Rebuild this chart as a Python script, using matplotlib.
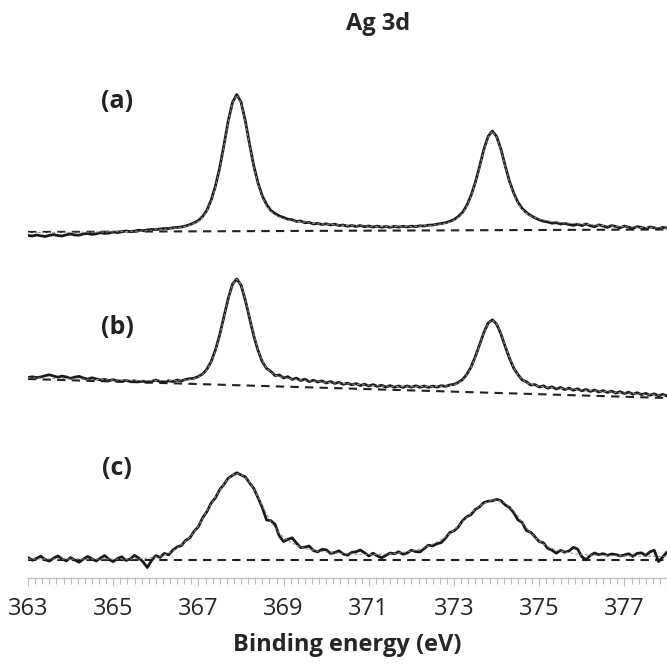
import numpy as np
import matplotlib.pyplot as plt
from matplotlib.ticker import MultipleLocator

plt.rcParams['font.family'] = ['Open Sans', 'DejaVu Sans']

# ---------------------------------------------------------------
# Datos (intensidad apilada, unidades arbitrarias)
# ---------------------------------------------------------------
energy = np.round(np.linspace(363.0, 378.0, 151), 1)   # eV, paso 0.1

data_a = [
    342.5, 342.0, 343.0, 342.2, 341.5, 342.6, 343.4, 342.5, 342.0, 343.2,
    344.0, 343.0, 342.8, 344.1, 344.5, 343.6, 344.2, 345.3, 344.6, 344.9,
    346.0, 345.4, 346.2, 347.0, 346.3, 346.9, 347.8, 347.3, 348.0, 348.6,
    348.3, 349.0, 349.5, 349.4, 350.2, 350.6, 351.0, 352.0, 353.4, 355.2,
    357.5, 361.5, 367.8, 378.0, 392.0, 410.2, 433.0, 457.0, 475.5, 483.5,
    476.0, 457.5, 434.0, 412.0, 395.0, 382.0, 373.5, 367.5, 364.5, 362.0,
    360.5, 358.8, 358.2, 356.6, 357.0, 355.2, 355.6, 354.0, 354.6, 353.5,
    354.2, 353.0, 353.8, 352.5, 353.0, 351.8, 352.5, 351.6, 352.4, 351.3,
    352.0, 351.0, 351.9, 350.8, 351.5, 350.7, 351.6, 350.9, 351.7, 351.0,
    351.8, 351.4, 352.2, 352.0, 352.8, 353.0, 353.8, 354.5, 355.3, 356.6,
    358.4, 361.5, 365.6, 372.5, 382.5, 395.5, 411.5, 428.5, 441.5, 447.0,
    441.5, 429.0, 412.5, 397.0, 385.0, 375.8, 369.5, 365.5, 362.5, 360.2,
    358.2, 356.8, 356.0, 354.8, 355.3, 354.0, 354.6, 353.5, 352.6, 353.8,
    352.4, 354.0, 352.3, 351.2, 353.2, 352.0, 350.6, 352.4, 351.5, 350.2,
    352.0, 350.8, 349.6, 351.4, 350.6, 349.4, 351.0, 350.2, 349.2, 350.6,
    350.0]

fit_a = [
    345.4, 345.4, 345.5, 345.5, 345.5, 345.6, 345.6, 345.6, 345.7, 345.7,
    345.7, 345.8, 345.8, 345.8, 345.9, 345.9, 346.0, 346.0, 346.1, 346.1,
    346.2, 346.3, 346.3, 346.4, 346.5, 346.6, 346.8, 347.1, 347.5, 347.9,
    348.2, 348.5, 348.8, 349.3, 349.7, 350.2, 350.7, 351.7, 352.8, 354.8,
    356.8, 360.8, 366.8, 376.9, 390.9, 408.9, 431.9, 455.9, 474.9, 483.0,
    475.3, 456.6, 433.0, 411.0, 394.0, 381.0, 372.1, 366.6, 363.1, 361.1,
    359.2, 358.2, 357.2, 356.8, 356.3, 355.7, 355.1, 354.6, 354.2, 354.1,
    353.9, 353.6, 353.4, 353.0, 352.6, 352.4, 352.3, 352.2, 352.2, 352.0,
    351.8, 351.7, 351.6, 351.4, 351.3, 351.3, 351.3, 351.3, 351.4, 351.4,
    351.5, 351.7, 351.9, 352.2, 352.5, 352.9, 353.4, 354.1, 354.9, 356.0,
    357.7, 360.7, 364.7, 371.7, 381.7, 394.7, 410.7, 427.7, 440.7, 446.7,
    441.1, 428.4, 411.8, 396.3, 384.0, 374.8, 368.3, 364.8, 362.0, 360.4,
    359.0, 358.0, 357.2, 356.5, 356.0, 355.5, 355.1, 354.8, 354.5, 354.2,
    354.0, 353.6, 353.3, 353.0, 352.7, 352.4, 352.1, 351.9, 351.7, 351.5,
    351.3, 351.1, 350.9, 350.8, 350.6, 350.5, 350.3, 350.2, 350.1, 350.0,
    349.9]

data_b = [
    200.5, 201.2, 200.4, 201.0, 202.3, 203.2, 202.0, 200.8, 201.9, 201.0,
    199.6, 200.9, 201.6, 200.0, 198.9, 200.2, 199.1, 198.0, 198.6, 197.5,
    198.3, 197.2, 196.8, 197.6, 196.5, 197.2, 196.2, 196.9, 195.9, 196.7,
    197.8, 196.6, 196.0, 197.2, 196.5, 198.0, 197.0, 198.6, 199.3, 199.8,
    201.5, 204.0, 208.8, 216.5, 228.0, 243.2, 261.4, 279.5, 293.8, 299.0,
    293.0, 278.0, 260.0, 242.0, 227.5, 216.2, 209.6, 206.5, 202.4, 203.0,
    200.0, 201.3, 198.6, 199.9, 197.5, 198.8, 196.4, 197.8, 196.0, 197.1,
    195.0, 196.4, 194.6, 195.6, 193.7, 194.9, 193.2, 194.4, 192.5, 193.8,
    192.0, 193.4, 191.6, 192.8, 191.0, 192.4, 190.8, 192.0, 190.6, 192.0,
    190.8, 192.2, 190.7, 192.0, 190.6, 191.9, 190.9, 192.3, 191.6, 193.0,
    193.6, 195.6, 198.4, 203.6, 211.0, 221.4, 233.2, 245.4, 254.8, 258.2,
    254.0, 244.2, 231.8, 220.0, 210.0, 203.6, 198.0, 196.2, 193.0, 193.4,
    191.0, 192.2, 189.8, 191.2, 189.0, 190.6, 188.4, 189.9, 187.8, 189.2,
    187.2, 188.5, 186.6, 188.0, 186.0, 187.4, 185.5, 186.9, 184.9, 186.3,
    184.4, 185.8, 183.8, 185.3, 183.4, 184.6, 182.8, 184.2, 182.2, 183.6,
    182.0]

fit_b = [
    200.2, 200.1, 200.0, 199.8, 199.7, 199.6, 199.5, 199.4, 199.3, 199.2,
    199.1, 199.0, 198.9, 198.8, 198.7, 198.6, 198.5, 198.4, 198.3, 198.1,
    198.0, 197.9, 197.8, 197.8, 197.7, 197.6, 197.5, 197.5, 197.4, 197.4,
    197.4, 197.5, 197.6, 197.5, 197.5, 197.7, 197.9, 198.1, 198.7, 199.5,
    200.9, 203.6, 208.2, 215.9, 227.2, 242.4, 260.6, 278.9, 293.3, 298.8,
    293.3, 278.8, 260.7, 242.8, 228.0, 217.1, 209.9, 205.5, 202.8, 201.4,
    200.4, 199.6, 199.0, 198.6, 198.2, 197.9, 197.5, 197.0, 196.5, 196.0,
    195.7, 195.4, 195.1, 194.8, 194.4, 194.1, 193.8, 193.5, 193.2, 192.9,
    192.7, 192.5, 192.3, 192.1, 191.9, 191.7, 191.5, 191.4, 191.3, 191.3,
    191.5, 191.5, 191.5, 191.4, 191.3, 191.4, 191.5, 191.7, 192.0, 192.5,
    193.3, 195.0, 197.9, 203.0, 210.5, 220.7, 232.6, 244.9, 254.5, 258.0,
    254.3, 244.7, 232.4, 220.4, 210.5, 203.2, 198.4, 195.5, 193.7, 192.5,
    191.8, 191.2, 190.7, 190.4, 190.0, 189.8, 189.3, 189.1, 188.8, 188.4,
    188.0, 187.7, 187.4, 187.1, 186.8, 186.5, 186.2, 185.9, 185.6, 185.3,
    185.0, 184.7, 184.4, 184.1, 183.9, 183.6, 183.4, 183.1, 182.9, 182.6,
    182.4]

data_c = [
    20.5, 17.8, 19.6, 21.8, 18.4, 16.9, 19.8, 22.0, 19.0, 17.2,
    20.4, 18.0, 15.8, 18.9, 21.5, 19.2, 17.0, 19.9, 22.4, 18.6,
    16.4, 19.5, 21.2, 17.6, 19.0, 22.6, 20.0, 16.2, 10.5, 17.5,
    22.4, 20.6, 24.6, 23.2, 27.8, 31.0, 32.4, 37.6, 40.2, 46.8,
    51.4, 60.2, 66.4, 75.0, 80.2, 88.4, 93.6, 99.8, 102.6, 105.2,
    103.0, 101.2, 95.2, 89.6, 80.2, 70.4, 58.0, 57.4, 53.6, 42.0,
    36.4, 38.6, 40.2, 35.0, 30.4, 30.8, 32.0, 27.4, 26.2, 28.6,
    28.2, 24.6, 25.4, 27.2, 24.0, 22.8, 25.6, 26.2, 28.0, 25.2,
    22.0, 24.8, 22.2, 20.2, 22.6, 25.0, 24.2, 26.2, 23.8, 25.0,
    27.8, 26.4, 26.0, 29.4, 32.8, 32.2, 34.2, 35.4, 39.8, 45.4,
    47.2, 51.0, 57.4, 61.2, 63.4, 68.6, 71.2, 75.4, 76.8, 77.2,
    78.6, 77.4, 73.2, 70.6, 65.4, 58.2, 55.6, 47.4, 45.8, 41.2,
    36.4, 35.2, 29.6, 27.8, 24.8, 27.6, 25.8, 27.0, 30.6, 29.0,
    21.4, 18.2, 22.6, 25.0, 23.2, 24.4, 22.6, 24.0, 23.4, 22.0,
    23.0, 24.2, 21.6, 24.6, 25.2, 22.4, 26.2, 27.8, 16.4, 21.0,
    26.0]

fit_c = [
    19.0, 19.0, 19.0, 19.0, 19.0, 19.0, 19.0, 19.0, 19.0, 19.0,
    19.0, 19.0, 19.0, 19.0, 19.0, 19.0, 19.0, 19.0, 19.0, 19.0,
    19.0, 19.0, 19.0, 19.0, 19.0, 19.2, 19.4, 19.7, 20.0, 20.4,
    21.0, 21.9, 23.0, 24.8, 27.0, 29.8, 33.0, 36.8, 41.0, 46.2,
    52.0, 59.5, 67.0, 74.0, 81.0, 87.7, 94.0, 99.0, 103.0, 104.5,
    103.5, 100.5, 96.0, 89.0, 81.0, 72.5, 64.0, 56.5, 50.0, 45.0,
    41.0, 37.8, 35.0, 32.8, 31.0, 29.6, 28.5, 27.7, 27.0, 26.5,
    26.0, 25.5, 25.0, 24.8, 24.5, 24.2, 24.0, 23.8, 23.5, 23.5,
    23.5, 23.5, 23.5, 23.7, 24.0, 24.2, 24.5, 25.0, 25.5, 26.2,
    27.0, 28.0, 29.0, 30.4, 32.0, 34.0, 36.0, 38.4, 41.0, 44.4,
    48.0, 52.0, 56.0, 60.5, 65.0, 68.8, 72.0, 74.5, 76.5, 77.6,
    78.0, 77.0, 75.0, 71.5, 67.0, 61.8, 56.0, 50.4, 45.0, 40.8,
    37.0, 34.0, 31.5, 29.6, 28.0, 27.0, 26.0, 25.2, 24.5, 24.0,
    23.5, 23.2, 23.0, 22.8, 22.7, 22.5, 22.4, 22.3, 22.2, 22.1,
    22.0, 22.0, 21.9, 21.9, 21.8, 21.8, 21.7, 21.7, 21.6, 21.6,
    21.5]

# Fondos lineales (extremos 363 y 378 eV)
bg_energy = [363.0, 378.0]
bg_a = [346.0, 348.5]
bg_b = [199.0, 180.0]
bg_c = [18.0, 18.0]

panel_labels = ["(a)", "(b)", "(c)"]
label_y = [477, 251, 110]
tick_values = [363, 365, 367, 369, 371, 373, 375, 377]

# ---------------------------------------------------------------
# Figura
# ---------------------------------------------------------------
fig = plt.figure(figsize=(6.67, 6.64), dpi=100)
ax = fig.add_axes([28 / 667, 1 - 578 / 664, 639 / 667, 518 / 664])

for dat, fit, bg in [(data_a, fit_a, bg_a), (data_b, fit_b, bg_b), (data_c, fit_c, bg_c)]:
    ax.plot(bg_energy, bg, color="#222222", lw=1.5, ls=(0, (4, 3)), zorder=2)
    ax.plot(energy, dat, color="#1a1a1a", lw=2.0, solid_joinstyle="round",
            solid_capstyle="round", zorder=3)
    ax.plot(energy, fit, color="#8c8c8c", lw=0.7, ls=(0, (3, 2)), zorder=4)

for lab, y in zip(panel_labels, label_y):
    ax.text(365.09, y, lab, fontsize=18, fontweight="bold", color="#222222",
            ha="center", va="center")

ax.set_xlim(363, 378)
ax.set_ylim(0, 518)

for s in ["top", "right", "left"]:
    ax.spines[s].set_visible(False)
ax.spines["bottom"].set_color("#bdbdbd")
ax.spines["bottom"].set_linewidth(1.0)
ax.set_yticks([])

ax.set_xticks(tick_values)
ax.xaxis.set_minor_locator(MultipleLocator(1 / 6))
ax.tick_params(axis="x", which="major", length=6, width=0.8, color="#bdbdbd",
               labelsize=17, labelcolor="#262626", pad=8)
ax.tick_params(axis="x", which="minor", length=4.5, width=0.8, color="#bdbdbd")

ax.set_xlabel("Binding energy (eV)", fontsize=17, fontweight="bold",
              color="#262626", labelpad=8)

fig.text(378 / 667, 1 - 24 / 664, "Ag 3d", fontsize=17, fontweight="bold",
         color="#262626", ha="center", va="center")

fig.savefig("out.png", dpi=100)
